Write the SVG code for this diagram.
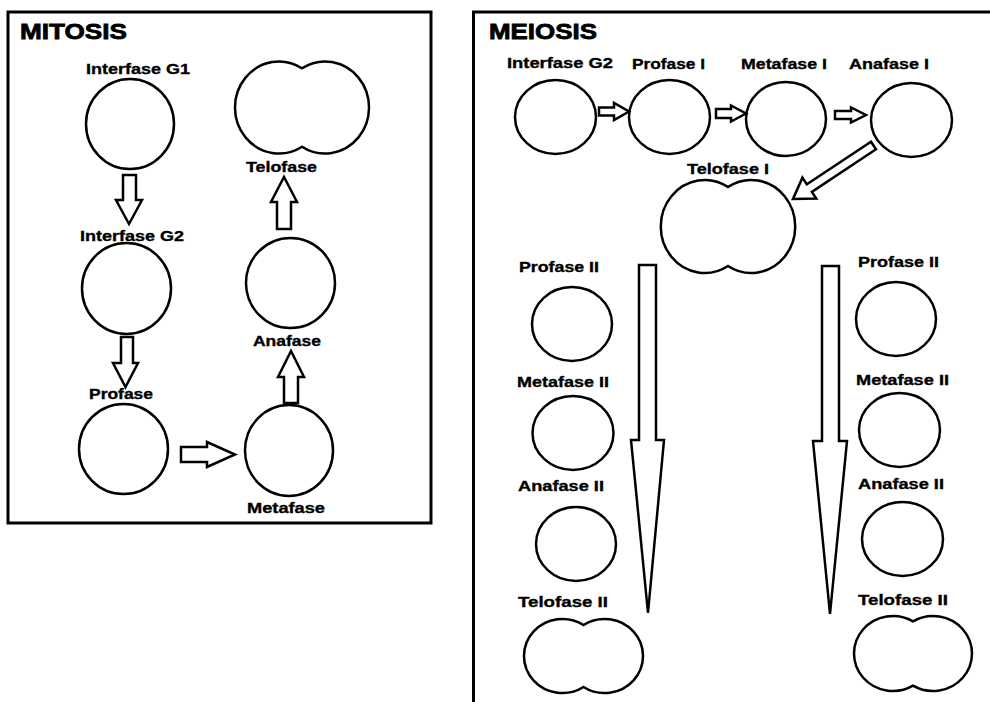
<svg xmlns="http://www.w3.org/2000/svg" width="990" height="702" viewBox="0 0 990 702">
  <style>
    .frame { fill: none; stroke: #000; stroke-width: 3; }
    .cell { fill: #fff; stroke: #000; stroke-width: 2.5; }
    .arrow { fill: #fff; stroke: #000; stroke-width: 2.5; stroke-linejoin: miter; }
    .title { font-family: "Liberation Sans", Arial, sans-serif; font-weight: bold; font-size: 22px; fill: #000; stroke: #000; stroke-width: 0.8; }
    .lbl { font-family: "Liberation Sans", Arial, sans-serif; font-weight: bold; font-size: 15px; fill: #000; stroke: #000; stroke-width: 0.35; }
  </style>
  <rect width="990" height="702" fill="#fff"/>

  <!-- panels -->
  <g id="mitosis-panel">
    <rect class="frame" x="8" y="12" width="423" height="511"/>
    <text class="title" x="20" y="39" textLength="107" lengthAdjust="spacingAndGlyphs">MITOSIS</text>
  </g>
  <g id="meiosis-panel">
    <path class="frame" d="M473.5,702 V12 H990"/>
    <text class="title" x="489" y="39" textLength="108" lengthAdjust="spacingAndGlyphs">MEIOSIS</text>
  </g>

  <!-- mitosis stages -->
  <g id="mit-interfase-g1">
    <text class="lbl" x="86" y="74" textLength="104" lengthAdjust="spacingAndGlyphs">Interfase G1</text>
    <ellipse class="cell" cx="130" cy="124" rx="44" ry="45"/>
  </g>
  <g id="mit-interfase-g2">
    <text class="lbl" x="80" y="241" textLength="104" lengthAdjust="spacingAndGlyphs">Interfase G2</text>
    <ellipse class="cell" cx="126.5" cy="288.5" rx="44.5" ry="45.5"/>
  </g>
  <g id="mit-profase">
    <text class="lbl" x="89" y="399" textLength="64" lengthAdjust="spacingAndGlyphs">Profase</text>
    <ellipse class="cell" cx="123.5" cy="449" rx="44.5" ry="45"/>
  </g>
  <g id="mit-metafase">
    <ellipse class="cell" cx="289" cy="450.5" rx="44" ry="45.5"/>
    <text class="lbl" x="247" y="513" textLength="78" lengthAdjust="spacingAndGlyphs">Metafase</text>
  </g>
  <g id="mit-anafase">
    <ellipse class="cell" cx="290.5" cy="283" rx="44.5" ry="45"/>
    <text class="lbl" x="253" y="346" textLength="68" lengthAdjust="spacingAndGlyphs">Anafase</text>
  </g>
  <g id="mit-telofase">
    <path class="cell" d="M302,68.3 A44,46 0 1,0 302,146.7 A44,46 0 1,0 302,68.3 Z"/>
    <text class="lbl" x="246" y="172" textLength="71" lengthAdjust="spacingAndGlyphs">Telofase</text>
  </g>

  <!-- meiosis I stages -->
  <g id="mei-interfase-g2">
    <text class="lbl" x="507" y="68" textLength="106" lengthAdjust="spacingAndGlyphs">Interfase G2</text>
    <ellipse class="cell" cx="555.5" cy="117" rx="40.5" ry="37"/>
  </g>
  <g id="mei-profase-1">
    <text class="lbl" x="632" y="69" textLength="73" lengthAdjust="spacingAndGlyphs">Profase I</text>
    <ellipse class="cell" cx="669.5" cy="117" rx="40.5" ry="37"/>
  </g>
  <g id="mei-metafase-1">
    <text class="lbl" x="741" y="69" textLength="86" lengthAdjust="spacingAndGlyphs">Metafase I</text>
    <ellipse class="cell" cx="786" cy="119" rx="40" ry="37"/>
  </g>
  <g id="mei-anafase-1">
    <text class="lbl" x="849" y="69" textLength="80" lengthAdjust="spacingAndGlyphs">Anafase I</text>
    <ellipse class="cell" cx="911.5" cy="120" rx="40.5" ry="37"/>
  </g>
  <g id="mei-telofase-1">
    <text class="lbl" x="687" y="174" textLength="82" lengthAdjust="spacingAndGlyphs">Telofase I</text>
    <path class="cell" d="M728,187 A44,46.5 0 1,0 728,266 A44,46.5 0 1,0 728,187 Z"/>
  </g>

  <!-- meiosis II, left branch -->
  <g id="mei-profase-2-left">
    <text class="lbl" x="519" y="272" textLength="80" lengthAdjust="spacingAndGlyphs">Profase II</text>
    <ellipse class="cell" cx="572" cy="324" rx="40" ry="37"/>
  </g>
  <g id="mei-metafase-2-left">
    <text class="lbl" x="517" y="387" textLength="92" lengthAdjust="spacingAndGlyphs">Metafase II</text>
    <ellipse class="cell" cx="573" cy="433" rx="40.5" ry="37"/>
  </g>
  <g id="mei-anafase-2-left">
    <text class="lbl" x="518" y="491" textLength="86" lengthAdjust="spacingAndGlyphs">Anafase II</text>
    <ellipse class="cell" cx="576" cy="544" rx="40" ry="37"/>
  </g>
  <g id="mei-telofase-2-left">
    <text class="lbl" x="518" y="607" textLength="90" lengthAdjust="spacingAndGlyphs">Telofase II</text>
    <path class="cell" d="M583.5,625 A38.5,37 0 1,0 583.5,687 A38.5,37 0 1,0 583.5,625 Z"/>
  </g>

  <!-- meiosis II, right branch -->
  <g id="mei-profase-2-right">
    <text class="lbl" x="858" y="267" textLength="81" lengthAdjust="spacingAndGlyphs">Profase II</text>
    <ellipse class="cell" cx="896" cy="319" rx="40" ry="37"/>
  </g>
  <g id="mei-metafase-2-right">
    <text class="lbl" x="856" y="385" textLength="93" lengthAdjust="spacingAndGlyphs">Metafase II</text>
    <ellipse class="cell" cx="899.5" cy="430" rx="40.5" ry="37"/>
  </g>
  <g id="mei-anafase-2-right">
    <text class="lbl" x="858" y="489" textLength="86" lengthAdjust="spacingAndGlyphs">Anafase II</text>
    <ellipse class="cell" cx="902.5" cy="539" rx="40.5" ry="37"/>
  </g>
  <g id="mei-telofase-2-right">
    <text class="lbl" x="858" y="605" textLength="90" lengthAdjust="spacingAndGlyphs">Telofase II</text>
    <path class="cell" d="M913,621.3 A39,37.5 0 1,0 913,685.7 A39,37.5 0 1,0 913,621.3 Z"/>
  </g>

  <!-- block arrows -->
  <g id="connectors">
    <!-- mitosis -->
    <polygon class="arrow" points="123,175 136,175 136,200 142,200 129,224 116,200 123,200"/>
    <polygon class="arrow" points="121,337 133,337 133,363 138,363 125.5,387 113,363 121,363"/>
    <polygon class="arrow" points="181,447 207,447 207,442 235,454.5 207,467 207,462 181,462"/>
    <polygon class="arrow" points="284,403 298,403 298,377 304,377 291,351 278,377 284,377"/>
    <polygon class="arrow" points="277,229 291,229 291,202 297,202 284,177 271,202 277,202"/>
    <!-- meiosis I row -->
    <polygon class="arrow" points="599,107.5 614,107.5 614,103 629,111.5 614,120 614,115.5 599,115.5"/>
    <polygon class="arrow" points="716,109 731,109 731,105.5 746,113.5 731,121.5 731,118 716,118"/>
    <polygon class="arrow" points="835,111 851,111 851,107.5 866,115 851,122.5 851,119 835,119"/>
    <!-- anafase I to telofase I -->
    <polygon class="arrow" transform="translate(873.5,145.5) rotate(146.4)" points="0,-4.5 77,-4.5 77,-12.5 96.7,0 77,12.5 77,4.5 0,4.5"/>
    <!-- long arrows down both meiosis II branches -->
    <polygon class="arrow" points="639,265 656,265 656,440 664,440 648,613 631,440 639,440"/>
    <polygon class="arrow" points="822,266 839,266 839,441 847,441 830,614 813,441 822,441"/>
  </g>
</svg>
